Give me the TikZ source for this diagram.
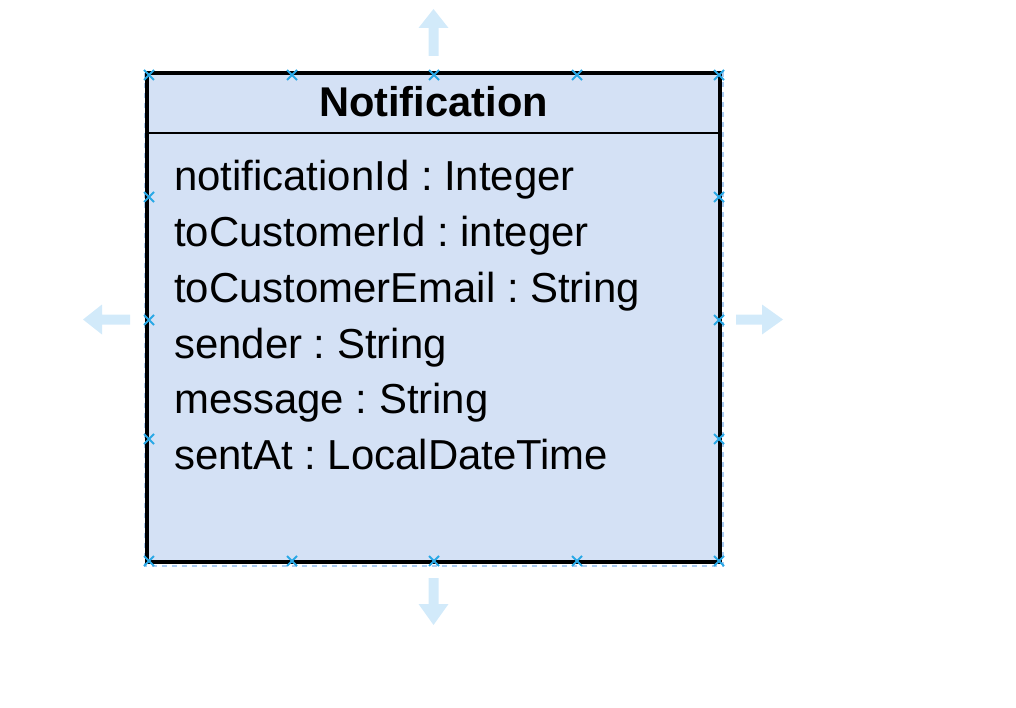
\documentclass[tikz,border=0pt]{standalone}
\usepackage{fontspec}
\setmainfont{Liberation Sans}
\definecolor{classfill}{HTML}{D4E1F5}
\definecolor{selblue}{HTML}{A9CCF3}
\definecolor{handle}{HTML}{29A8E6}
\definecolor{arrowblue}{HTML}{D2EAFA}
\frenchspacing
\begin{document}
\begin{tikzpicture}[x=1pt,y=-1pt,
  attr/.style={anchor=base west, inner sep=0pt, font=\fontsize{41.9}{50}\selectfont},
  titletext/.style={anchor=base, inner sep=0pt, font=\fontsize{41.6}{50}\selectfont\bfseries},
  classbox/.style={draw=black, line width=2.6pt, fill=classfill, inner sep=0pt, minimum width=571pt, minimum height=487pt},
  selbox/.style={draw=selblue, line width=1.2pt, dash pattern=on 5pt off 5pt},
  handlemark/.style={draw=handle, line width=1.8pt},
  hint/.style={fill=arrowblue, draw=none}
]
\useasboundingbox (0,0) rectangle (1016,708);
% class box
\node[classbox] (cls) at (433.5,317.5) {};
\draw[selbox] (145,73) rectangle (723,566);
\draw[black, line width=2.6pt] (cls.west |- 0,133) -- (cls.east |- 0,133);
\draw[black, line width=2.6pt] (cls.south west) rectangle (cls.north east);
% texts
\node[titletext] (title) at (433.5,117) {Notification};
\node[attr] (a1) at (174,190.5) {notificationId : Integer};
\node[attr] (a2) at (174,246.5) {toCustomerId : integer};
\node[attr] (a3) at (174,302) {toCustomerEmail : String};
\node[attr] (a4) at (174,358) {sender : String};
\node[attr] (a5) at (174,413.5) {message : String};
\node[attr] (a6) at (174,469) {sentAt : LocalDateTime};
% handles
\foreach \x/\y in {149/75,292/75,434/75,577/75,719/75,
                   149/561,292/561,434/561,577/561,719/561,
                   149/197,149/320,149/439,719/197,719/320,719/439}{
  \draw[handlemark] (\x-5,\y-5) -- (\x+5,\y+5) (\x-5,\y+5) -- (\x+5,\y-5);
}
% hint arrows
\fill[hint] (433.5,9) -- (448.5,28) -- (438.5,28) -- (438.5,56) -- (428.5,56) -- (428.5,28) -- (418.5,28) -- cycle;
\fill[hint] (433.5,625) -- (448.5,604) -- (438.5,604) -- (438.5,578) -- (428.5,578) -- (428.5,604) -- (418.5,604) -- cycle;
\fill[hint] (83,319.5) -- (102,304.5) -- (102,314.5) -- (130,314.5) -- (130,324.5) -- (102,324.5) -- (102,334.5) -- cycle;
\fill[hint] (783,319.5) -- (762,304.5) -- (762,314.5) -- (736,314.5) -- (736,324.5) -- (762,324.5) -- (762,334.5) -- cycle;
\end{tikzpicture}
\end{document}
